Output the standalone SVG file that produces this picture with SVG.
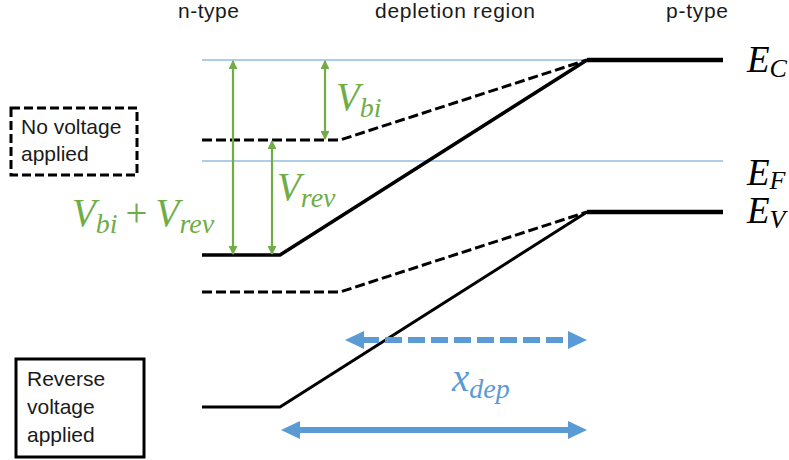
<svg xmlns="http://www.w3.org/2000/svg" width="789" height="460" viewBox="0 0 789 460">
<defs>
<style>
.lbl{font-family:"Liberation Sans",Arial,sans-serif;font-size:21px;fill:#1a1a1a}
.math{font-family:"Liberation Serif","DejaVu Serif",serif;font-style:italic;font-size:39px}
.e{font-size:37px}
.sub{font-size:28px}
.esub{font-size:26px}
.ref{stroke:#5B9BD5;stroke-width:1;fill:none}
.band{stroke:#000;fill:none;stroke-linejoin:round}
.dash{stroke-dasharray:10 4}
.g{stroke:#70AD47;stroke-width:2.2;fill:none}
.b{stroke:#5B9BD5;stroke-width:6;fill:none}
.bh{fill:#5B9BD5}
</style>
<marker id="ga" viewBox="0 0 10 10" refX="9" refY="5" markerWidth="4.5" markerHeight="4" orient="auto-start-reverse" markerUnits="strokeWidth"><path d="M0,0 L10,5 L0,10 z" fill="#70AD47"/></marker>
</defs>
<rect width="789" height="460" fill="#fff"/>
<g id="titles">
<text class="lbl" x="455" y="18" text-anchor="middle" textLength="160" lengthAdjust="spacing">depletion region</text>
<text class="lbl" x="178" y="18" textLength="61" lengthAdjust="spacing">n-type</text>
<text class="lbl" x="666" y="18" textLength="62" lengthAdjust="spacing">p-type</text>
</g>
<g id="reference-lines">
<line class="ref" x1="202" y1="60" x2="587" y2="60"/>
<line class="ref" x1="202" y1="161" x2="723" y2="161"/>
</g>
<g id="bands-no-voltage">
<polyline class="band dash" stroke-width="3" points="202,140 340,140 587,60"/>
<polyline class="band dash" stroke-width="3" points="202,292 340,292 587,212"/>
</g>
<g id="bands-reverse">
<polyline class="band" stroke-width="3.5" points="202,255 280,255 587,60"/>
<polyline class="band" stroke-width="3" points="202,407 280,407 587,212"/>
<line class="band" stroke-width="4.5" x1="587" y1="60" x2="723" y2="60"/>
<line class="band" stroke-width="4.5" x1="587" y1="212" x2="723" y2="212"/>
</g>
<g id="connectors">
<line class="g" x1="233" y1="61" x2="233" y2="254" marker-start="url(#ga)" marker-end="url(#ga)"/>
<line class="g" x1="272" y1="141" x2="272" y2="254" marker-start="url(#ga)" marker-end="url(#ga)"/>
<line class="g" x1="325" y1="61" x2="325" y2="139" marker-start="url(#ga)" marker-end="url(#ga)"/>
<line class="b" x1="362" y1="340" x2="570" y2="340" stroke-dasharray="17 6"/>
<polygon class="bh" points="345,340 364,331 364,349"/>
<polygon class="bh" points="587,340 568,331 568,349"/>
<line class="b" x1="298" y1="430" x2="570" y2="430"/>
<polygon class="bh" points="281,430 300,421 300,439"/>
<polygon class="bh" points="587,430 568,421 568,439"/>
</g>
<g id="label-vbi" fill="#70AD47">
<text class="math" x="336" y="110">V<tspan class="sub" dy="7">bi</tspan></text>
</g>
<g id="label-vrev" fill="#70AD47">
<text class="math" x="277" y="200">V<tspan class="sub" dy="7">rev</tspan></text>
</g>
<g id="label-vbi-vrev" fill="#70AD47">
<text class="math" x="72" y="226">V<tspan class="sub" dy="7">bi</tspan><tspan font-style="normal" dy="-7" dx="8">+</tspan><tspan dx="8">V</tspan><tspan class="sub" dy="7">rev</tspan></text>
</g>
<g id="label-ec"><text class="math e" x="747" y="72" fill="#000">E<tspan class="esub" dy="5">C</tspan></text></g>
<g id="label-ef"><text class="math e" x="747" y="185" fill="#000">E<tspan class="esub" dy="4">F</tspan></text></g>
<g id="label-ev"><text class="math e" x="747" y="223" fill="#000">E<tspan class="esub" dy="5">V</tspan></text></g>
<g id="label-xdep" fill="#5B9BD5">
<text class="math" x="452" y="391">x<tspan class="sub" dy="7">dep</tspan></text>
</g>
<g id="box-no-voltage">
<rect x="11" y="108" width="126" height="67" fill="none" stroke="#000" stroke-width="3" stroke-dasharray="9 4"/>
<text class="lbl" x="21" y="134">No voltage</text>
<text class="lbl" x="21" y="161">applied</text>
</g>
<g id="box-reverse">
<rect x="16" y="359" width="128" height="98" fill="none" stroke="#000" stroke-width="3"/>
<text class="lbl" x="27" y="386">Reverse</text>
<text class="lbl" x="27" y="414">voltage</text>
<text class="lbl" x="27" y="442">applied</text>
</g>
</svg>
